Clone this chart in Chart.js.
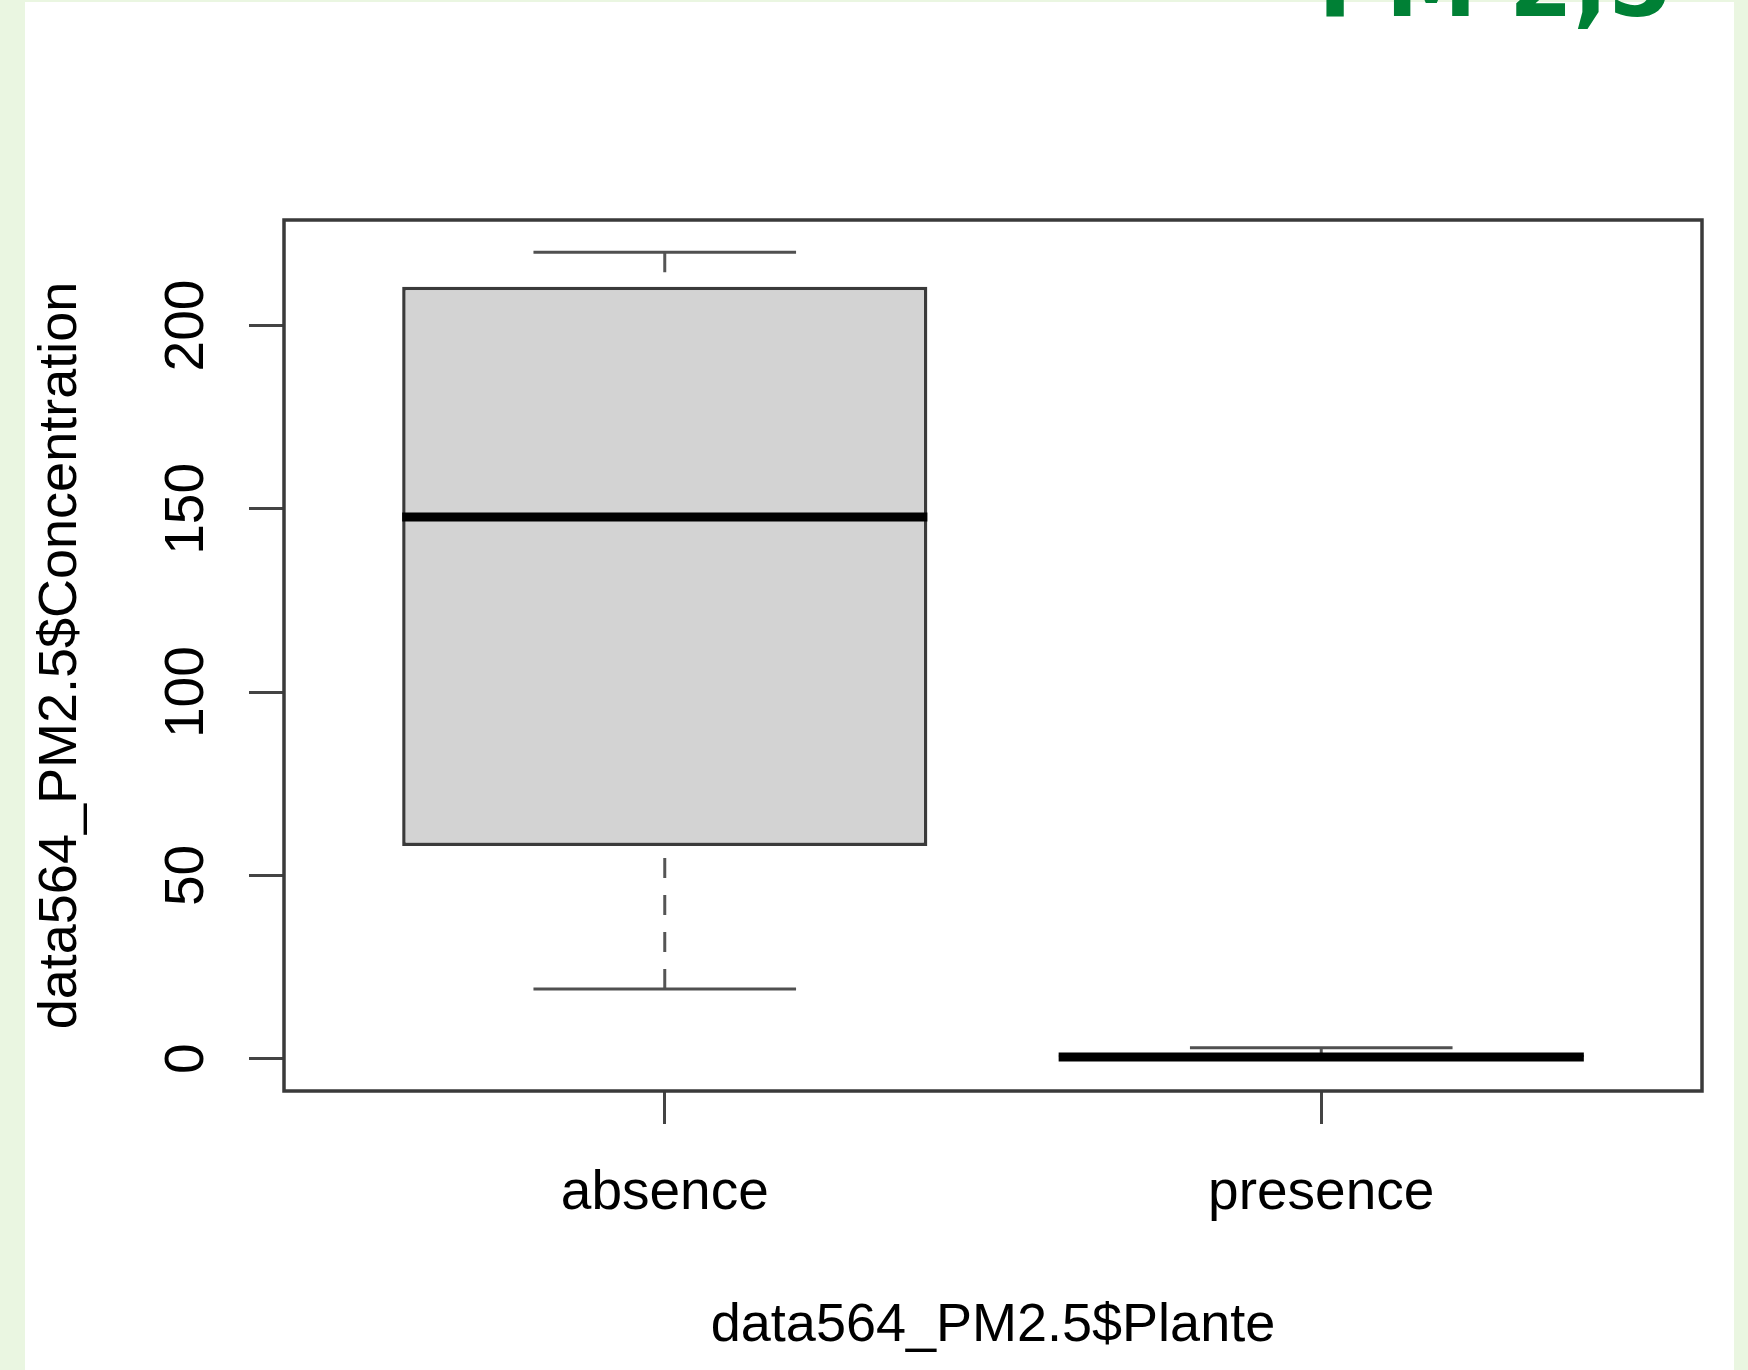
<!DOCTYPE html>
<html>
<head>
<meta charset="utf-8">
<title>data564_PM2.5 boxplot</title>
<script src="https://cdn.jsdelivr.net/npm/chart.js@4.4.1/dist/chart.umd.min.js"></script>
<style>
    html, body { margin: 0; padding: 0; }
    body { width: 1748px; height: 1370px; background: #eaf6e1; overflow: hidden; position: relative; font-family: 'Liberation Sans', Arial, sans-serif; }
    #panel { position: absolute; left: 25px; top: 2px; width: 1709px; height: 1368px; background: #fff; }
    #chart { position: absolute; left: 0; top: 0; }
    #headline { position: absolute; left: 1318px; top: -61px; font-family: 'DejaVu Sans', sans-serif; font-weight: bold; font-size: 92px; line-height: 1; color: #008035; white-space: nowrap; }
</style>
</head>
<body>
<div id="panel">
    <canvas id="chart" width="1709" height="1368"></canvas>
</div>
<div id="headline">PM 2,5</div>
<script>
// boxplot stats
const groups = ['absence', 'presence'];
const lowerWhisker = [19, 0];
const lowerQuartile = [58, 0];
const medians = [147.8, 0.5];
const upperQuartile = [210.6, 1];
const upperWhisker = [220, 3];
const yTickValues = [0, 50, 100, 150, 200];

const FONT = "'Liberation Sans', Arial, sans-serif";
const BOX_HALF = 0.4;
const CAP_HALF = 0.2;

// R style range: data range widened by 4% on each side
const lo = Math.min(...lowerWhisker), hi = Math.max(...upperWhisker);
const yPad = (hi - lo) * 0.04;
const xPad = groups.length * 0.04;

function segs(fn) {
    // each group gives one segment, a null point breaks the line between groups
    return groups.flatMap((g, i) => {
        const [a, b] = fn(i, i + 1);
        return [a, b, { x: i + 1, y: null }];
    });
}

// whisker stems start at the whisker end, like R's bxp does
const medianPts = segs((i, c) => [{ x: c - BOX_HALF, y: medians[i] }, { x: c + BOX_HALF, y: medians[i] }]);
const upperStem = segs((i, c) => [{ x: c, y: upperWhisker[i] }, { x: c, y: upperQuartile[i] }]);
const lowerStem = segs((i, c) => [{ x: c, y: lowerWhisker[i] }, { x: c, y: lowerQuartile[i] }]);
const upperCap = segs((i, c) => [{ x: c - CAP_HALF, y: upperWhisker[i] }, { x: c + CAP_HALF, y: upperWhisker[i] }]);
const lowerCap = segs((i, c) => [{ x: c - CAP_HALF, y: lowerWhisker[i] }, { x: c + CAP_HALF, y: lowerWhisker[i] }]);

function seg(data, color, width, dash, order) {
    return {
        type: 'line', data, borderColor: color, borderWidth: width, borderDash: dash || [],
        borderCapStyle: 'butt', pointRadius: 0, tension: 0, fill: false, order
    };
}

const plotFrame = {
    id: 'plotFrame',
    afterDraw(chart) {
        const { ctx, chartArea: a } = chart;
        ctx.save();
        ctx.strokeStyle = '#3a3a3a';
        ctx.lineWidth = 3.5;
        ctx.strokeRect(a.left, a.top, a.right - a.left, a.bottom - a.top);
        ctx.restore();
    }
};

new Chart(document.getElementById('chart'), {
    type: 'bar',
    data: {
        datasets: [
            {
                type: 'bar',
                data: groups.map((g, i) => ({ x: i + 1, y: [lowerQuartile[i], upperQuartile[i]] })),
                backgroundColor: '#d3d3d3',
                borderColor: '#3a3a3a',
                borderWidth: 3.5,
                borderSkipped: false,
                barPercentage: BOX_HALF * 2,
                categoryPercentage: 1,
                order: 5
            },
            seg(upperStem, '#555', 3, [20, 17], 3),
            seg(lowerStem, '#555', 3, [20, 17], 3),
            seg(upperCap, '#505050', 3, null, 2),
            seg(lowerCap, '#505050', 3, null, 2),
            seg(medianPts, '#000', 9, null, 1)
        ]
    },
    options: {
        responsive: false,
        animation: false,
        layout: { padding: { left: 0, right: 32, top: 218, bottom: 0 } },
        plugins: { legend: { display: false }, tooltip: { enabled: false } },
        scales: {
            x: {
                type: 'linear',
                offset: false,
                min: 0.5 - xPad,
                max: groups.length + 0.5 + xPad,
                afterBuildTicks: s => { s.ticks = groups.map((g, i) => ({ value: i + 1 })); },
                afterFit: s => { s.height = 279; },
                grid: { offset: false, drawOnChartArea: false, drawTicks: true, tickLength: 33, color: '#444', lineWidth: 3 },
                border: { display: false },
                ticks: {
                    autoSkip: false, maxRotation: 0, padding: 37, color: '#000',
                    font: { family: FONT, size: 55 },
                    callback: v => groups[v - 1]
                },
                title: {
                    display: true, text: 'data564_PM2.5$Plante', color: '#000',
                    font: { family: FONT, size: 54 }, padding: { top: 0, bottom: 11 }
                }
            },
            y: {
                type: 'linear',
                min: lo - yPad,
                max: hi + yPad,
                afterBuildTicks: s => { s.ticks = yTickValues.map(v => ({ value: v })); },
                afterFit: s => { s.width = 259; },
                grid: { drawOnChartArea: false, drawTicks: true, tickLength: 35, color: '#444', lineWidth: 3 },
                border: { display: false },
                ticks: {
                    minRotation: 90, maxRotation: 90, crossAlign: 'center', padding: 15, color: '#000',
                    font: { family: FONT, size: 55 }
                },
                title: {
                    display: true, text: 'data564_PM2.5$Concentration', color: '#000',
                    font: { family: FONT, size: 54 }, padding: { top: 4, bottom: 0 }
                }
            }
        }
    },
    plugins: [plotFrame]
});
</script>
</body>
</html>
